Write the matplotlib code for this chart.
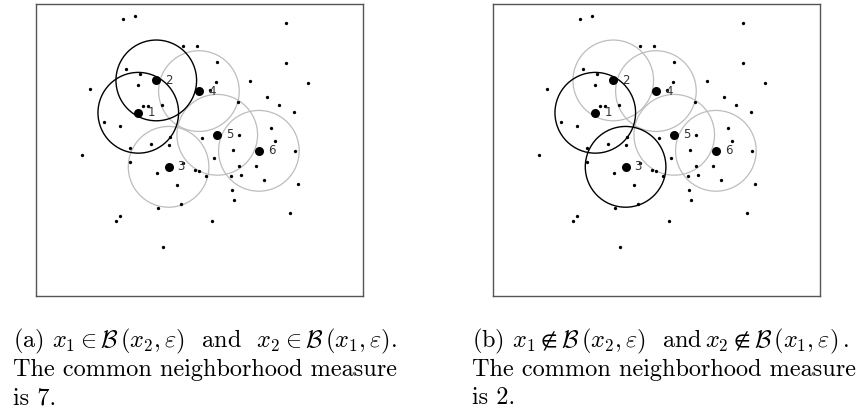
#!/usr/bin/env python3

import matplotlib
matplotlib.use('Agg')
import matplotlib.pyplot as plt
from matplotlib.patches import Circle

plt.rcParams['mathtext.fontset'] = 'cm'

# Background sample points (plot units, y grows downward)
small_x = [280, 316, 767, 458, 500, 560, 768, 289, 330, 558, 661, 834, 179, 324,
           540, 712, 746, 339, 355, 397, 624, 793, 221, 270, 723, 627, 515, 420,
           735, 364, 418, 300, 608, 795, 155, 552, 299, 458, 626, 678, 495, 508,
           380, 528, 603, 634, 702, 442, 803, 607, 612, 453, 385, 270, 259, 547,
           779, 400]
small_y = [57, 49, 69, 137, 139, 186, 190, 208, 221, 245, 243, 248, 267, 256,
           271, 292, 314, 317, 318, 315, 306, 337, 367, 377, 383, 404, 413, 412,
           424, 432, 434, 444, 451, 452, 464, 475, 485, 489, 497, 497, 509, 511,
           517, 528, 528, 524, 540, 554, 551, 568, 600, 611, 622, 646, 663, 663,
           638, 740]

# Highlighted points 1..6
big_labels = ['1', '2', '3', '4', '5', '6']
big_x = [325, 379, 416, 507, 562, 687]
big_y = [338, 241, 500, 273, 404, 452]
radius = 121

# Which neighbourhoods are drawn in black in each panel
black_a = ['1', '2']
black_b = ['1', '3']

captions_a = [r'(a) $x_1 \in \mathcal{B}\,(x_2, \varepsilon)$  and  $x_2 \in \mathcal{B}\,(x_1, \varepsilon)$.',
              'The common neighborhood measure',
              'is 7.']
captions_b = [r'(b) $x_1 \notin \mathcal{B}\,(x_2, \varepsilon)$  and$\,x_2 \notin \mathcal{B}\,(x_1, \varepsilon)\,$.',
              'The common neighborhood measure',
              'is 2.']

W, H = 865, 411
fig = plt.figure(figsize=(W / 100, H / 100), dpi=100)


def draw_panel(left, black):
    ax = fig.add_axes([left / W, (H - 296.3) / H, 326.5 / W, 292.3 / H])
    ax.set_xlim(18, 998)
    ax.set_ylim(888, 12)
    ax.set_xticks([])
    ax.set_yticks([])
    for s in ax.spines.values():
        s.set_color('#555555')
        s.set_linewidth(1.0)
    for lab, x, y in zip(big_labels, big_x, big_y):
        if lab not in black:
            ax.add_patch(Circle((x, y), radius, fill=False, color='#bdbdbd', lw=0.9))
    for lab, x, y in zip(big_labels, big_x, big_y):
        if lab in black:
            ax.add_patch(Circle((x, y), radius, fill=False, color='black', lw=1.0))
    ax.plot(small_x, small_y, 'o', color='black', ms=2.4, mew=0)
    ax.plot(big_x, big_y, 'o', color='black', ms=6.5, mew=0)
    for lab, x, y in zip(big_labels, big_x, big_y):
        ax.annotate(lab, (x, y), xytext=(6.5, 0), textcoords='offset points',
                    ha='left', va='center', fontsize=8.5, color='#333333')
    return ax


draw_panel(36, black_a)
draw_panel(493, black_b)

for x0, lines in [(13, captions_a), (472, captions_b)]:
    for i, line in enumerate(lines):
        fig.text(x0 / W, 1 - (347 + 28.5 * i) / H, line, family='cmr10',
                 fontsize=17.5, ha='left', va='baseline')

fig.savefig('out.png', dpi=100)
